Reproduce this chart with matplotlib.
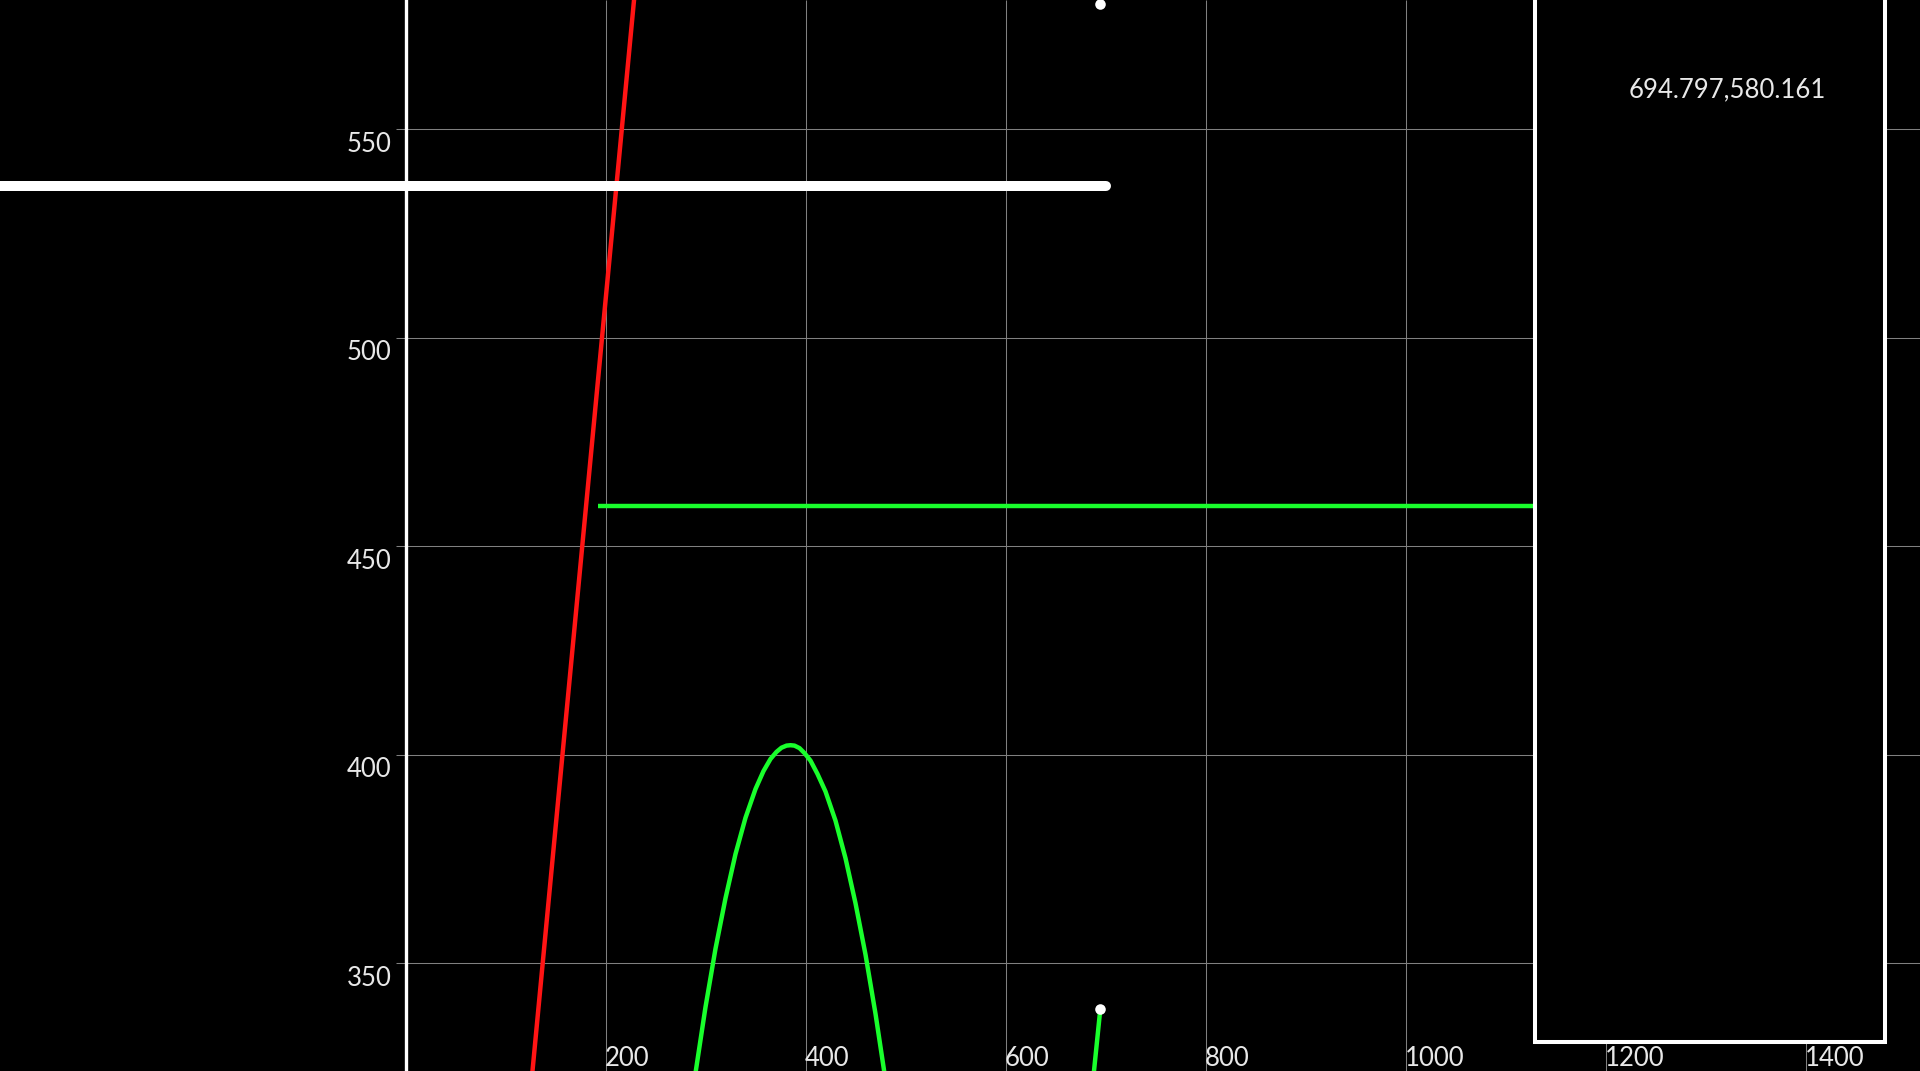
import matplotlib
matplotlib.use("Agg")
import matplotlib.pyplot as plt
from matplotlib.patches import Rectangle
from matplotlib.transforms import blended_transform_factory

plt.rcParams['font.family'] = ['Lato', 'DejaVu Sans']

# view window (data units)
x_min, x_max = -405.5, 1514.5
y_min, y_max = 324.17, 581.01

# grid / tick values
x_ticks = [200, 400, 600, 800, 1000, 1200, 1400]
y_ticks = [350, 400, 450, 500, 550]

# red line (two points)
red_x = [120, 240]
red_y = [306.5, 610.0]

# thick white horizontal line
white_x = [-500, 700]
white_y = [536.4, 536.4]

# green horizontal line (runs under the box)
green_h_x = [192.8, 1300]
green_h_y = [459.7, 459.7]

# green arch, points
arch_x = [280, 290, 300, 310, 320, 330, 340, 350, 358, 365, 371, 376, 381, 385,
          389, 394, 399, 405, 412, 420, 430, 440, 450, 460, 470, 480, 490]
arch_y = [306.2, 323.7, 339.5, 353.5, 365.6, 376.2, 384.9, 391.8, 396.1, 399.0,
          400.7, 401.7, 402.2, 402.3, 402.2, 401.6, 400.4, 398.6, 395.4, 391.2,
          384.2, 375.2, 364.4, 352.1, 337.9, 322.0, 304.4]

# short green segment below the lower dot
green_s_x = [694.8, 686.0]
green_s_y = [339.0, 318.3]

# points
dot_x = [694.797, 694.797]
dot_y = [580.161, 339.0]
point_label = "694.797,580.161"

# box on the right
box_x0, box_x1 = 1129.5, 1479.5
box_bottom = 331.1

label_color = '#e8e8e8'
grid_color = '#808080'
fs = 18.5

fig = plt.figure(figsize=(19.2, 10.71), dpi=100, facecolor='black')
ax = fig.add_axes([0, 0, 1, 1])
ax.set_facecolor('black')
ax.set_xlim(x_min, x_max)
ax.set_ylim(y_min, y_max)
ax.axis('off')

# grid
ax.hlines(y_ticks, -10, x_max, colors=grid_color, linewidth=0.75, zorder=1)
ax.vlines(x_ticks, y_min, y_max, colors=grid_color, linewidth=0.75, zorder=1)
ax.axvline(0, color='white', linewidth=2.4, zorder=2)

# curves
ax.plot(red_x, red_y, color='#ff1414', linewidth=3.2, zorder=3)
ax.plot(green_h_x, green_h_y, color='#19ff2c', linewidth=3.2,
        solid_capstyle='butt', zorder=3)
ax.plot(arch_x, arch_y, color='#19ff2c', linewidth=3.2,
        solid_joinstyle='round', zorder=3)
ax.plot(green_s_x, green_s_y, color='#19ff2c', linewidth=3.2, zorder=3)
ax.plot(white_x, white_y, color='white', linewidth=7.2,
        solid_capstyle='round', zorder=4)
ax.plot(dot_x, dot_y, 'o', color='white', markersize=7.6,
        markeredgewidth=0, zorder=5)

# box
box = Rectangle((box_x0, box_bottom), box_x1 - box_x0, 400,
                facecolor='black', edgecolor='white', linewidth=2.9, zorder=6)
ax.add_patch(box)
ax.text(0.8995, 1 - 97.3 / 1071, point_label, transform=ax.transAxes,
        ha='center', va='baseline', fontsize=fs, color=label_color, zorder=7)

# tick labels
for v in y_ticks:
    ax.annotate(str(v), xy=(0, v), xytext=(-14, -22.4), textcoords='offset pixels',
                ha='right', va='baseline', fontsize=fs, color=label_color,
                zorder=7)

trans = blended_transform_factory(ax.transData, ax.transAxes)
for v in x_ticks:
    ax.annotate(str(v), xy=(v, 0), xycoords=trans, xytext=(-0.5, 5.5),
                textcoords='offset pixels', ha='left', va='baseline',
                fontsize=fs, color=label_color, zorder=7)

fig.savefig('out.png', dpi=100, facecolor='black')
